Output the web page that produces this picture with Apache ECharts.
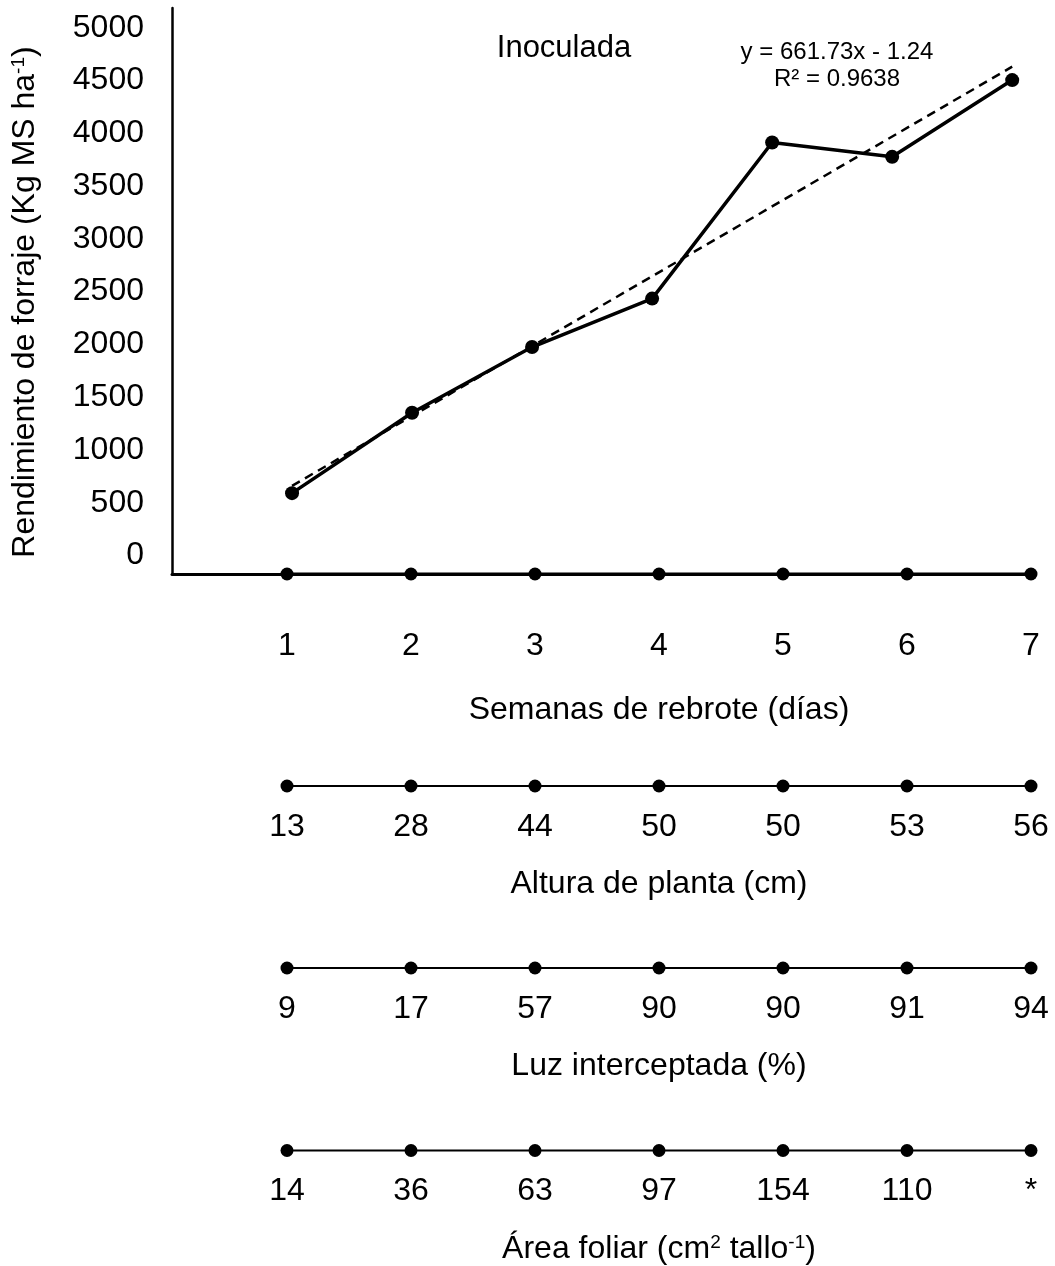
<!DOCTYPE html>
<html>
<head>
<meta charset="utf-8">
<script src="https://cdn.jsdelivr.net/npm/echarts@6/dist/echarts.min.js"></script>
<style>
html,body{margin:0;padding:0;background:#fff;}
#chart{width:1055px;height:1266px;}
</style>
</head>
<body>
<div id="chart"></div>
<script>
// ---- data ----
const weeks = [1, 2, 3, 4, 5, 6, 7];
const yieldKg = [591, 1353, 1975, 2434, 3913, 3777, 4504];
const trendX = [1, 7];
const trendY = [660, 4631];
const yTicks = [0, 500, 1000, 1500, 2000, 2500, 3000, 3500, 4000, 4500, 5000];
const weekLabels = ['1', '2', '3', '4', '5', '6', '7'];
const alturaLabels = ['13', '28', '44', '50', '50', '53', '56'];
const luzLabels = ['9', '17', '57', '90', '90', '91', '94'];
const areaLabels = ['14', '36', '63', '97', '154', '110', '*'];

const FONT = "'Liberation Sans', Arial, sans-serif";
const chart = echarts.init(document.getElementById('chart'), null, {renderer: 'canvas'});

const supStyle = {fontSize: 19, fontFamily: FONT, color: '#000', verticalAlign: 'top'};

const strips = [
  {labels: weekLabels, title: 'Semanas de rebrote (días)', y: 574, dist: 50, gap: 110, lw: 3},
  {labels: alturaLabels, title: 'Altura de planta (cm)', y: 786, dist: 19, gap: 72, lw: 2},
  {labels: luzLabels, title: 'Luz interceptada (%)', y: 968, dist: 19, gap: 72, lw: 2},
  {labels: areaLabels, title: 'Área foliar (cm{sup|2} tallo{sup|-1})', y: 1151, dist: 18, gap: 73, lw: 2}
];

const grid = [{left: 172, right: 20, top: 8, bottom: 692}];
const xAxis = [{
  type: 'value', gridIndex: 0, min: 0, max: 7.19,
  axisLine: {show: true, onZero: false, lineStyle: {color: '#000', width: 3}},
  axisTick: {show: false}, axisLabel: {show: false}, splitLine: {show: false}
}];
const yAxis = [{
  type: 'value', gridIndex: 0, min: -175, max: 5187,
  axisLine: {show: true, onZero: false, lineStyle: {color: '#000', width: 2.5}},
  axisTick: {show: false},
  splitLine: {show: false},
  axisLabel: {customValues: yTicks, formatter: v => String(v), fontSize: 32, color: '#000', fontFamily: FONT, margin: 28},
  name: 'Rendimiento de forraje (Kg MS ha{sup|-1})',
  nameLocation: 'middle', nameRotate: 90, nameGap: 131,
  nameTextStyle: {fontSize: 32, color: '#000', fontFamily: FONT, padding: [0, 22, 0, 0], rich: {sup: supStyle}}
}];

const series = [
  {
    type: 'line', xAxisIndex: 0, yAxisIndex: 0, z: 2,
    data: trendX.map((x, i) => [x, trendY[i]]),
    symbol: 'none', silent: true,
    lineStyle: {color: '#000', width: 2.5, type: [9, 6]}
  },
  {
    type: 'line', xAxisIndex: 0, yAxisIndex: 0, z: 3,
    data: weeks.map((w, i) => [w, yieldKg[i]]),
    symbol: 'circle', symbolSize: 14,
    itemStyle: {color: '#000'},
    lineStyle: {color: '#000', width: 3.5}
  }
];

strips.forEach((s, k) => {
  const gi = k + 1;
  grid.push({left: 287, right: 24, top: s.y - 10, height: 20});
  xAxis.push({
    type: 'value', gridIndex: gi, min: 1, max: 7,
    axisLine: {show: false}, axisTick: {show: false}, axisLabel: {show: false}, splitLine: {show: false},
    name: s.title, nameLocation: 'middle', nameGap: s.gap,
    nameTextStyle: {fontSize: 32, color: '#000', fontFamily: FONT, rich: {sup: supStyle}}
  });
  yAxis.push({type: 'category', gridIndex: gi, data: ['row'], show: false});
  series.push({
    type: 'line', xAxisIndex: gi, yAxisIndex: gi, z: 4,
    data: weeks.map(w => [w, 'row']),
    symbol: 'circle', symbolSize: 13,
    itemStyle: {color: '#000'},
    lineStyle: {color: '#000', width: s.lw},
    label: {
      show: true, position: 'bottom', distance: s.dist,
      fontSize: 32, color: '#000', fontFamily: FONT,
      formatter: p => s.labels[p.dataIndex]
    }
  });
});

chart.setOption({
  animation: false,
  backgroundColor: '#fff',
  grid, xAxis, yAxis, series,
  graphic: [
    {type: 'text', style: {text: 'Inoculada', x: 564, y: 48, align: 'center', verticalAlign: 'middle', fontSize: 31, fontFamily: FONT, fill: '#000'}},
    {type: 'text', style: {text: 'y = 661.73x - 1.24', x: 837, y: 52, align: 'center', verticalAlign: 'middle', fontSize: 24, fontFamily: FONT, fill: '#000'}},
    {type: 'text', style: {text: 'R² = 0.9638', x: 837, y: 79, align: 'center', verticalAlign: 'middle', fontSize: 24, fontFamily: FONT, fill: '#000'}}
  ]
});
</script>
</body>
</html>
